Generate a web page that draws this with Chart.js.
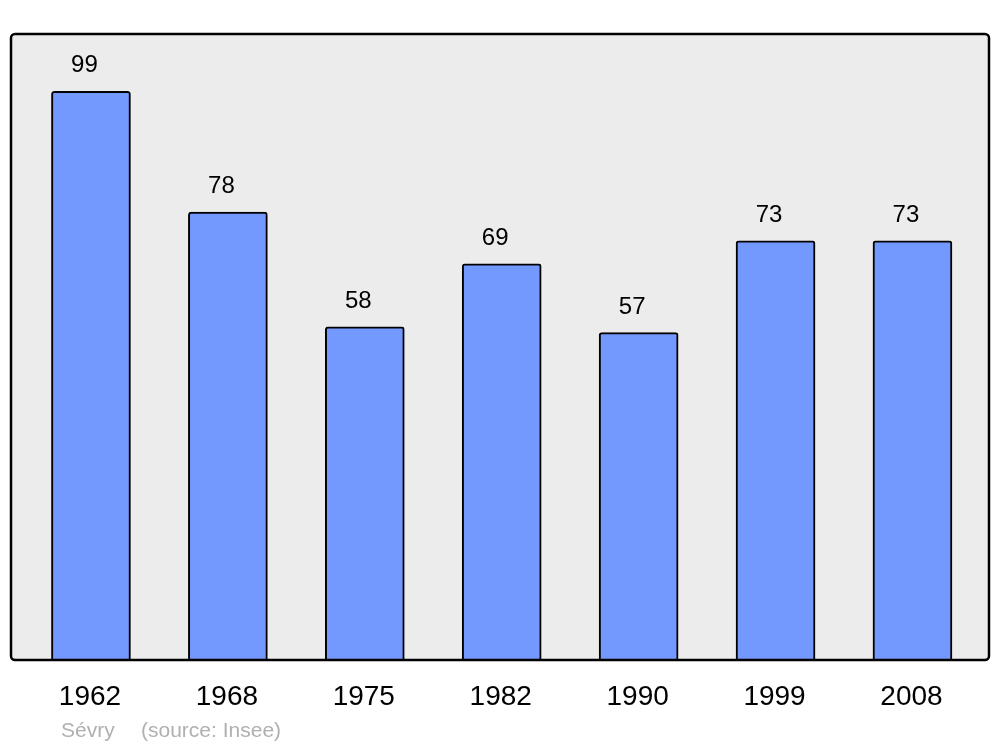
<!DOCTYPE html>
<html>
<head>
<meta charset="utf-8">
<script src="https://cdn.jsdelivr.net/npm/chart.js@4/dist/chart.umd.min.js"></script>
<style>
  html, body { margin: 0; padding: 0; background: #ffffff; }
  #wrap { width: 1000px; height: 747px; position: relative; }
</style>
</head>
<body>
<div id="wrap"><canvas id="c" width="1000" height="747"></canvas></div>
<script>
const years = ["1962", "1968", "1975", "1982", "1990", "1999", "2008"];
const population = [99, 78, 58, 69, 57, 73, 73];
const placeName = "Sévry";
const sourceText = "(source: Insee)";

const frameAndLabels = {
  id: 'frameAndLabels',
  beforeDatasetsDraw(chart) {
    const { ctx, chartArea: a } = chart;
    ctx.save();
    ctx.beginPath();
    ctx.roundRect(a.left, a.top, a.right - a.left, a.bottom - a.top, 4);
    ctx.fillStyle = '#ececec';
    ctx.fill();
    ctx.restore();
  },
  afterDatasetsDraw(chart) {
    const { ctx, chartArea: a, scales } = chart;
    ctx.save();
    ctx.beginPath();
    ctx.roundRect(a.left, a.top, a.right - a.left, a.bottom - a.top, 4);
    ctx.lineWidth = 2.5;
    ctx.strokeStyle = '#000000';
    ctx.stroke();

    // value labels
    ctx.fillStyle = '#000000';
    ctx.textAlign = 'center';
    ctx.textBaseline = 'alphabetic';
    ctx.font = '24px "Liberation Sans", Arial, sans-serif';
    population.forEach((v, i) => {
      const x = scales.x.getPixelForValue(i);
      const y = scales.y.getPixelForValue(v);
      ctx.fillText(String(v), x - 6.5, y - 19);
    });

    // category labels
    ctx.font = '28px "Liberation Sans", Arial, sans-serif';
    years.forEach((yr, i) => {
      const x = scales.x.getPixelForValue(i);
      ctx.fillText(yr, x - 1, a.bottom + 45);
    });

    // source line
    ctx.fillStyle = '#b0b0b0';
    ctx.textAlign = 'left';
    ctx.font = '21px "Liberation Sans", Arial, sans-serif';
    ctx.fillText(placeName, 61, 737);
    ctx.fillText(sourceText, 141, 737);
    ctx.restore();
  }
};

new Chart(document.getElementById('c'), {
  type: 'bar',
  data: {
    datasets: [{
      data: population.map((v, i) => ({ x: i, y: v })),
      backgroundColor: '#7399ff',
      borderColor: '#000000',
      borderWidth: 2,
      borderRadius: 3,
      borderSkipped: 'bottom',
      barThickness: 79
    }]
  },
  options: {
    responsive: false,
    animation: false,
    events: [],
    layout: { padding: { left: 11, right: 11, top: 34, bottom: 87 } },
    plugins: { legend: { display: false }, tooltip: { enabled: false } },
    scales: {
      x: { type: 'linear', min: -0.584, max: 6.559, offset: false, bounds: 'ticks', grace: 0, display: false },
      y: { type: 'linear', min: 0, max: 109, display: false }
    }
  },
  plugins: [frameAndLabels]
});
</script>
</body>
</html>
